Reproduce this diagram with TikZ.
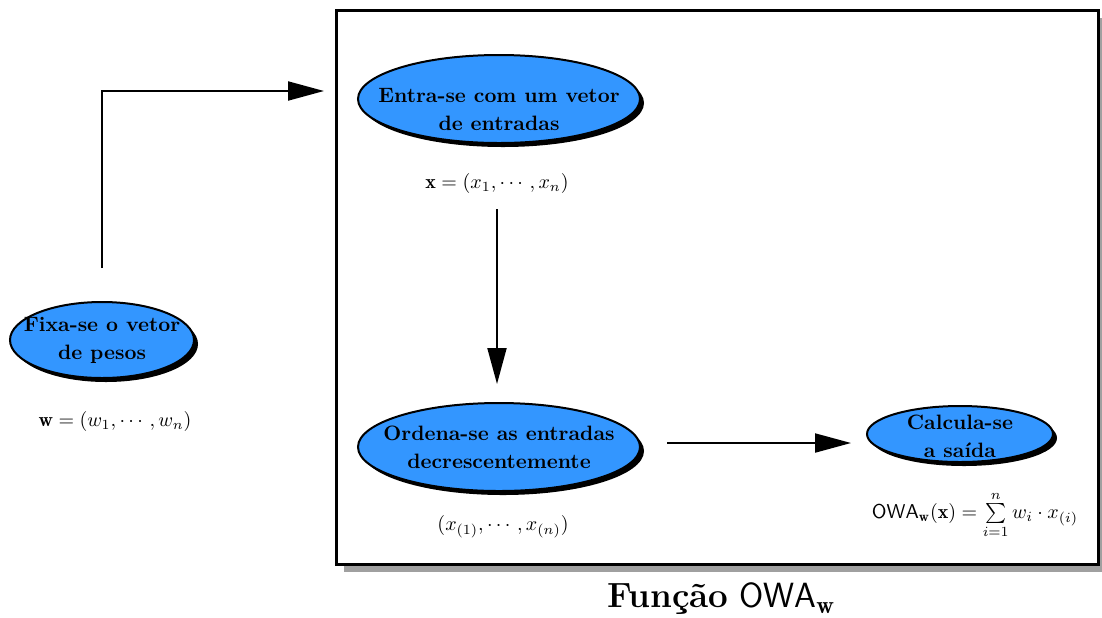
\documentclass[tikz,border=0pt]{standalone}
\usepackage{fontspec}
\usepackage{amsmath}
\usetikzlibrary{shapes.geometric,arrows.meta,shadows,calc}
\definecolor{stepblue}{RGB}{51,150,255}
\definecolor{boxshade}{RGB}{160,160,160}
\tikzset{
  stage/.style={ellipse, draw=black, line width=1pt, fill=stepblue,
    inner sep=0pt,
    drop shadow={shadow xshift=2pt, shadow yshift=-2pt, fill=black, opacity=1}},
  stagetext/.style={align=center, inner sep=0pt,
    font=\bfseries\fontsize{10.4}{14}\selectfont},
  flow/.style={line width=1pt, -{Triangle[length=18pt,width=9.5pt]}},
  mathlabel/.style={inner sep=0pt}
}
\begin{document}
\begin{tikzpicture}[x=0.5pt,y=-0.5pt]
\useasboundingbox (0,0) rectangle (1102,617);

% frame of the OWA function
\fill[boxshade] (344,18) rectangle (1105,572);
\draw[line width=1.5pt, fill=white] (336,10) rectangle (1098,564);

% stages
\node[stage, minimum width=92pt, minimum height=38pt,
  label={[stagetext]center:{Fixa-se o vetor\\ de pesos}}] (fixa) at (102,340) {};
\node[mathlabel] (wlab) at (115,421) {$\mathbf{w}=(w_1,\cdots,w_n)$};

\node[stage, minimum width=141pt, minimum height=44pt,
  label={[stagetext, yshift=-5pt]center:{Entra-se com um vetor\\ de entradas}}] (entra) at (499,99) {};
\node[mathlabel] (xlab) at (497,183) {$\mathbf{x}=(x_1,\cdots,x_n)$};

\node[stage, minimum width=141pt, minimum height=44pt,
  label={[stagetext]center:{Ordena-se as entradas\\ decrescentemente}}] (ordena) at (499,447) {};
\node[mathlabel] (olab) at (503,527) {$(x_{(1)},\cdots,x_{(n)})$};

\node[stage, minimum width=93pt, minimum height=28pt,
  label={[stagetext, yshift=-1pt]center:{Calcula-se\\ a saída}}] (calc) at (960,434) {};
\node[mathlabel] (owalab) at (975,515)
  {$\mathsf{OWA}_{\mathbf{w}}(\mathbf{x})=\textstyle\sum\limits_{i=1}^{n} w_i\cdot x_{(i)}$};

\node (title) at (721,599) {\fontsize{17.5}{20}\selectfont\textbf{Função} $\mathsf{OWA}_{\mathbf{w}}$};

% connectors
\coordinate (wstart) at (102,268);
\coordinate (frameentry) at (324,91);
\draw[flow] (wstart) |- (frameentry);
\draw[flow] ($(xlab.south)+(0,16)$) -- ($(xlab.south |- ordena.north)+(0,-18)$);
\draw[flow] ($(ordena.east)+(26,-4)$) -- ($(ordena.east -| calc.west)+(-15,-4)$);
\end{tikzpicture}
\end{document}
